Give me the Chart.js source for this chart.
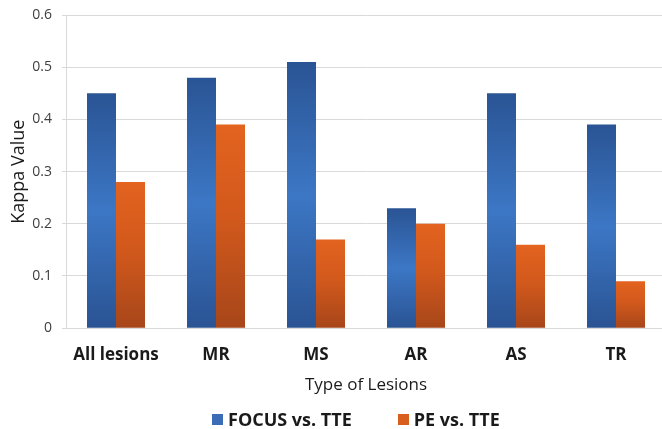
<!DOCTYPE html>
<html>
<head>
<meta charset="utf-8">
<script src="https://cdn.jsdelivr.net/npm/chart.js@4"></script>
<style>
  html, body { margin: 0; padding: 0; background: #fff; overflow: hidden; }
  #wrap { position: relative; width: 670px; height: 429px; }
  #legend {
    position: absolute; left: 212px; top: 406px;
    display: flex; gap: 46px; margin: 0; padding: 0; list-style: none;
    font: bold 18px "Open Sans", sans-serif; color: #1a1a1a; line-height: 26px;
  }
  #legend li { display: flex; align-items: center; }
  #legend span.box { display: inline-block; width: 11px; height: 11px; margin-right: 5px; }
</style>
</head>
<body>
<div id="wrap">
  <canvas id="kappaChart"></canvas>
  <ul id="legend"></ul>
</div>
<script>
// Data
const lesions = ['All lesions', 'MR', 'MS', 'AR', 'AS', 'TR'];
const focusVsTte = [0.45, 0.48, 0.51, 0.23, 0.45, 0.39];
const peVsTte = [0.28, 0.39, 0.17, 0.20, 0.16, 0.09];
const yTicks = [0, 0.1, 0.2, 0.3, 0.4, 0.5, 0.6];

const solidColors = ['#3b6db7', '#d95f1f'];

// vertical gradient for each bar, from its top down to zero
function barFill(stops, solid) {
    return function (ctx) {
        const chart = ctx.chart;
        if (ctx.type !== 'data' || !chart.chartArea) return solid;
        const y = chart.scales.y;
        const top = y.getPixelForValue(ctx.raw);
        const bottom = y.getPixelForValue(0);
        if (!isFinite(top) || bottom - top < 1) return solid;
        const g = chart.ctx.createLinearGradient(0, top, 0, bottom);
        stops.forEach(s => g.addColorStop(s[0], s[1]));
        return g;
    };
}

const blueStops = [[0, '#2a5494'], [0.5, '#3c77c5'], [1, '#2a5393']];
const orangeStops = [[0, '#e3631f'], [0.45, '#d2591c'], [1, '#a7461a']];
const font = '"Open Sans", sans-serif';

// HTML legend built from the chart's datasets
const htmlLegend = {
    id: 'htmlLegend',
    afterUpdate(chart) {
        const ul = document.getElementById('legend');
        ul.innerHTML = '';
        chart.data.datasets.forEach((ds, i) => {
            const li = document.createElement('li');
            const box = document.createElement('span');
            box.className = 'box';
            box.style.background = solidColors[i];
            const txt = document.createElement('span');
            txt.textContent = ds.label;
            li.appendChild(box);
            li.appendChild(txt);
            ul.appendChild(li);
        });
    }
};

const ctx = document.getElementById('kappaChart').getContext('2d');
new Chart(ctx, {
    type: 'bar',
    data: {
        labels: lesions,
        datasets: [{
            label: 'FOCUS vs. TTE',
            data: focusVsTte,
            backgroundColor: barFill(blueStops, solidColors[0]),
            borderWidth: 0
        }, {
            label: 'PE vs. TTE',
            data: peVsTte,
            backgroundColor: barFill(orangeStops, solidColors[1]),
            borderWidth: 0
        }]
    },
    options: {
        responsive: true,
        maintainAspectRatio: false,
        animation: false,
        layout: { padding: { top: 15, right: 4, left: 8, bottom: 34 } },
        datasets: {
            bar: { categoryPercentage: 0.58, barPercentage: 1 }
        },
        plugins: {
            tooltip: { enabled: false },
            legend: { display: false }
        },
        scales: {
            x: {
                grid: { display: false },
                border: { color: '#d9d9d9' },
                ticks: {
                    color: '#1a1a1a',
                    padding: 9,
                    font: { family: font, size: 17, weight: 'bold' }
                },
                title: {
                    display: true,
                    text: 'Type of Lesions',
                    color: '#1a1a1a',
                    padding: { top: 0, bottom: 0 },
                    font: { family: font, size: 17 }
                }
            },
            y: {
                min: 0,
                max: 0.6,
                afterBuildTicks: axis => { axis.ticks = yTicks.map(v => ({ value: v })); },
                afterFit: axis => { axis.width = 58; axis.paddingTop = 0; },
                grid: { color: '#d9d9d9', tickLength: 4 },
                border: { color: '#d9d9d9' },
                ticks: {
                    color: '#404040',
                    padding: 10,
                    callback: v => v === 0 ? '0' : v.toFixed(1),
                    font: { family: font, size: 14 }
                },
                title: {
                    display: true,
                    text: 'Kappa Value',
                    color: '#1a1a1a',
                    padding: { top: 0, bottom: 4 },
                    font: { family: font, size: 18 }
                }
            }
        }
    },
    plugins: [htmlLegend]
});
</script>
</body>
</html>
